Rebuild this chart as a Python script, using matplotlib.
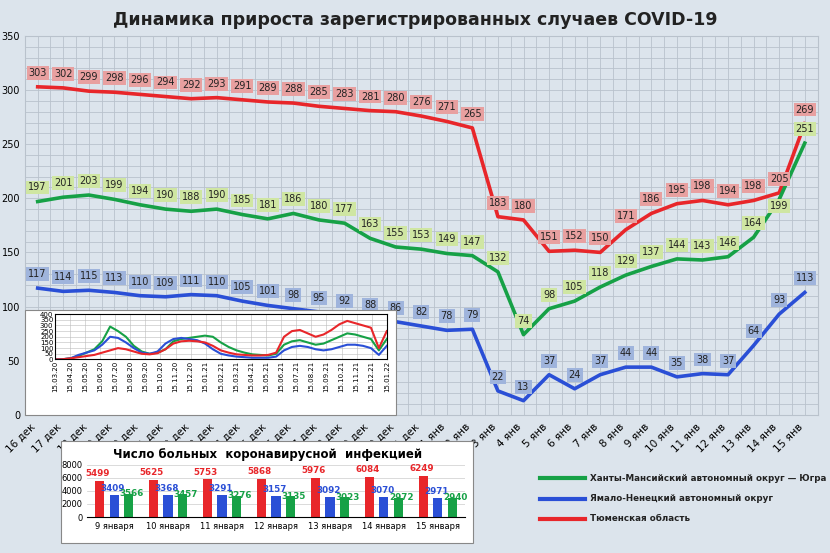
import matplotlib.pyplot as plt
import numpy as np

plt.rcParams['font.family'] = ['DejaVu Sans']

days = ['16 дек', '17 дек', '18 дек', '19 дек', '20 дек', '21 дек', '22 дек', '23 дек',
        '24 дек', '25 дек', '26 дек', '27 дек', '28 дек', '29 дек', '30 дек', '31 дек',
        '1 янв', '2 янв', '3 янв', '4 янв', '5 янв', '6 янв', '7 янв', '8 янв', '9 янв',
        '10 янв', '11 янв', '12 янв', '13 янв', '14 янв', '15 янв']
tyumen = [303, 302, 299, 298, 296, 294, 292, 293, 291, 289, 288, 285, 283, 281, 280, 276,
          271, 265, 183, 180, 151, 152, 150, 171, 186, 195, 198, 194, 198, 205, 269]
hmao = [197, 201, 203, 199, 194, 190, 188, 190, 185, 181, 186, 180, 177, 163, 155, 153,
        149, 147, 132, 74, 98, 105, 118, 129, 137, 144, 143, 146, 164, 199, 251]
yanao = [117, 114, 115, 113, 110, 109, 111, 110, 105, 101, 98, 95, 92, 88, 86, 82,
         78, 79, 22, 13, 37, 24, 37, 44, 44, 35, 38, 37, 64, 93, 113]

# inset: long history, roughly every half month from 15.03.20
inset_labels = ['15.03.20', '15.04.20', '15.05.20', '15.06.20', '15.07.20', '15.08.20',
                '15.09.20', '15.10.20', '15.11.20', '15.12.20', '15.01.21', '15.02.21',
                '15.03.21', '15.04.21', '15.05.21', '15.06.21', '15.07.21', '15.08.21',
                '15.09.21', '15.10.21', '15.11.21', '15.12.21', '15.01.22']
inset_green = [0, 2, 10, 30, 60, 90, 160, 290, 250, 200, 120, 70, 50, 60, 90, 160, 180, 190,
               200, 210, 200, 150, 110, 80, 60, 45, 40, 35, 50, 130, 160, 170, 150, 130, 140,
               170, 200, 230, 220, 200, 180, 80, 180]
inset_blue = [0, 2, 10, 40, 60, 80, 130, 200, 190, 150, 100, 60, 50, 70, 140, 180, 190, 180,
              170, 140, 90, 50, 35, 25, 20, 15, 15, 15, 25, 80, 110, 120, 110, 90, 80, 90,
              110, 130, 130, 120, 100, 40, 120]
inset_red = [0, 2, 10, 20, 30, 40, 60, 80, 100, 90, 70, 50, 45, 55, 90, 140, 160, 165, 160,
             150, 120, 80, 60, 45, 40, 35, 35, 40, 60, 200, 250, 260, 230, 200, 220, 260, 310,
             340, 320, 300, 280, 100, 250]

bar_days = ['9 января', '10 января', '11 января', '12 января', '13 января', '14 января', '15 января']
bar_tyumen = [5499, 5625, 5753, 5868, 5976, 6084, 6249]
bar_yanao = [3409, 3368, 3291, 3157, 3092, 3070, 2971]
bar_hmao = [3566, 3457, 3276, 3135, 3023, 2972, 2940]

RED, GREEN, BLUE = '#e8262a', '#16a146', '#2a4fd6'

fig = plt.figure(figsize=(8.3, 5.53), dpi=100)
fig.patch.set_facecolor('#dce4ec')

ax = fig.add_axes([0.030, 0.250, 0.955, 0.685])
ax.set_facecolor('none')
x = np.arange(len(days))
ax.set_xlim(-0.5, len(days) - 0.5)
ax.set_ylim(0, 350)
ax.set_yticks(range(0, 351, 50))
ax.set_yticks(range(0, 351, 10), minor=True)
ax.set_xticks(x)
ax.set_xticks(x - 0.5, minor=True)
ax.set_xticklabels(days, rotation=45, ha='right', fontsize=7.5)
ax.tick_params(axis='y', labelsize=7, length=0, which='both')
ax.tick_params(axis='x', length=0, which='both', pad=5)
ax.grid(which='both', color='#b9c2cc', lw=0.6)
for s in ax.spines.values():
    s.set_color('#b9c2cc')

for ys, c, fc in [(tyumen, RED, '#e8a0a0'), (hmao, GREEN, '#cfe6a2'), (yanao, BLUE, '#9fb4dc')]:
    ax.plot(x, ys, color=c, lw=2.6, zorder=3)
    for xi, yi in zip(x, ys):
        off = 13
        if ys is hmao and xi == 29:
            off = -6
        ax.text(xi, yi + off, str(yi), ha='center', va='center', fontsize=7, color='#222',
                zorder=4, bbox=dict(boxstyle='square,pad=0.2', fc=fc, ec='none'))

fig.text(0.5, 0.963, 'Динамика прироста зарегистрированных случаев COVID-19',
         ha='center', va='center', fontsize=12.5, fontweight='bold', color='#222')

# inset
fig.patches.append(plt.Rectangle((0.030, 0.250), 0.447, 0.190, transform=fig.transFigure,
                                 fc='white', ec='#888', lw=0.8, zorder=5))
ins = fig.add_axes([0.066, 0.350, 0.400, 0.082], zorder=6)
ins.set_facecolor('white')
xi = np.arange(len(inset_green))
ins.plot(xi, inset_green, color=GREEN, lw=1.5)
ins.plot(xi, inset_blue, color=BLUE, lw=1.5)
ins.plot(xi, inset_red, color=RED, lw=1.5)
ins.set_ylim(0, 400)
ins.set_xlim(0, len(inset_green) - 1)
ins.set_yticks(range(0, 401, 50))
ins.set_xticks(np.linspace(0, len(inset_green) - 1, len(inset_labels)))
ins.set_xticklabels(inset_labels, rotation=90, fontsize=5)
ins.tick_params(labelsize=5, length=0, pad=1)
ins.grid(color='#bbb', lw=0.4)

# bar chart
fig.patches.append(plt.Rectangle((0.073, 0.018), 0.497, 0.185, transform=fig.transFigure,
                                 fc='white', ec='#888', lw=0.8, zorder=5))
bx = fig.add_axes([0.105, 0.065, 0.455, 0.095], zorder=6)
bx.set_facecolor('white')
xb = np.arange(len(bar_days))
w = 0.17
bx.bar(xb - 0.27, bar_tyumen, w, color=RED)
bx.bar(xb, bar_yanao, w, color=BLUE)
bx.bar(xb + 0.27, bar_hmao, w, color=GREEN)
for i in xb:
    bx.text(i - 0.3, bar_tyumen[i] + 400, str(bar_tyumen[i]), color=RED, fontsize=6.3,
            fontweight='bold', ha='center', va='bottom')
    bx.text(i - 0.03, bar_yanao[i] + 300, str(bar_yanao[i]), color=BLUE, fontsize=6.3,
            fontweight='bold', ha='center', va='bottom')
    bx.text(i + 0.33, bar_hmao[i] - 700, str(bar_hmao[i]), color=GREEN, fontsize=6.3,
            fontweight='bold', ha='center', va='bottom')
bx.set_ylim(0, 8000)
bx.set_yticks(range(0, 8001, 2000))
bx.set_xlim(-0.5, len(bar_days) - 0.5)
bx.set_xticks(xb)
bx.set_xticklabels(bar_days, fontsize=6)
bx.tick_params(labelsize=6, length=0)
bx.grid(axis='y', color='#ccc', lw=0.5)
bx.set_axisbelow(True)
for s in ['top', 'right', 'left']:
    bx.spines[s].set_visible(False)
fig.text(0.322, 0.178, 'Число больных  коронавирусной  инфекцией', ha='center', va='center',
         fontsize=8.5, fontweight='bold', zorder=7)

# legend
for yy, c, lab in [(0.135, GREEN, 'Ханты-Мансийский автономный округ — Югра'),
                   (0.098, BLUE, 'Ямало-Ненецкий автономный округ'),
                   (0.062, RED, 'Тюменская область')]:
    fig.add_artist(plt.Line2D([0.650, 0.705], [yy, yy], color=c, lw=3, transform=fig.transFigure))
    fig.text(0.711, yy, lab, fontsize=6.3, fontweight='bold', va='center', color='#222')

fig.savefig('out.png', dpi=100, facecolor=fig.get_facecolor())
